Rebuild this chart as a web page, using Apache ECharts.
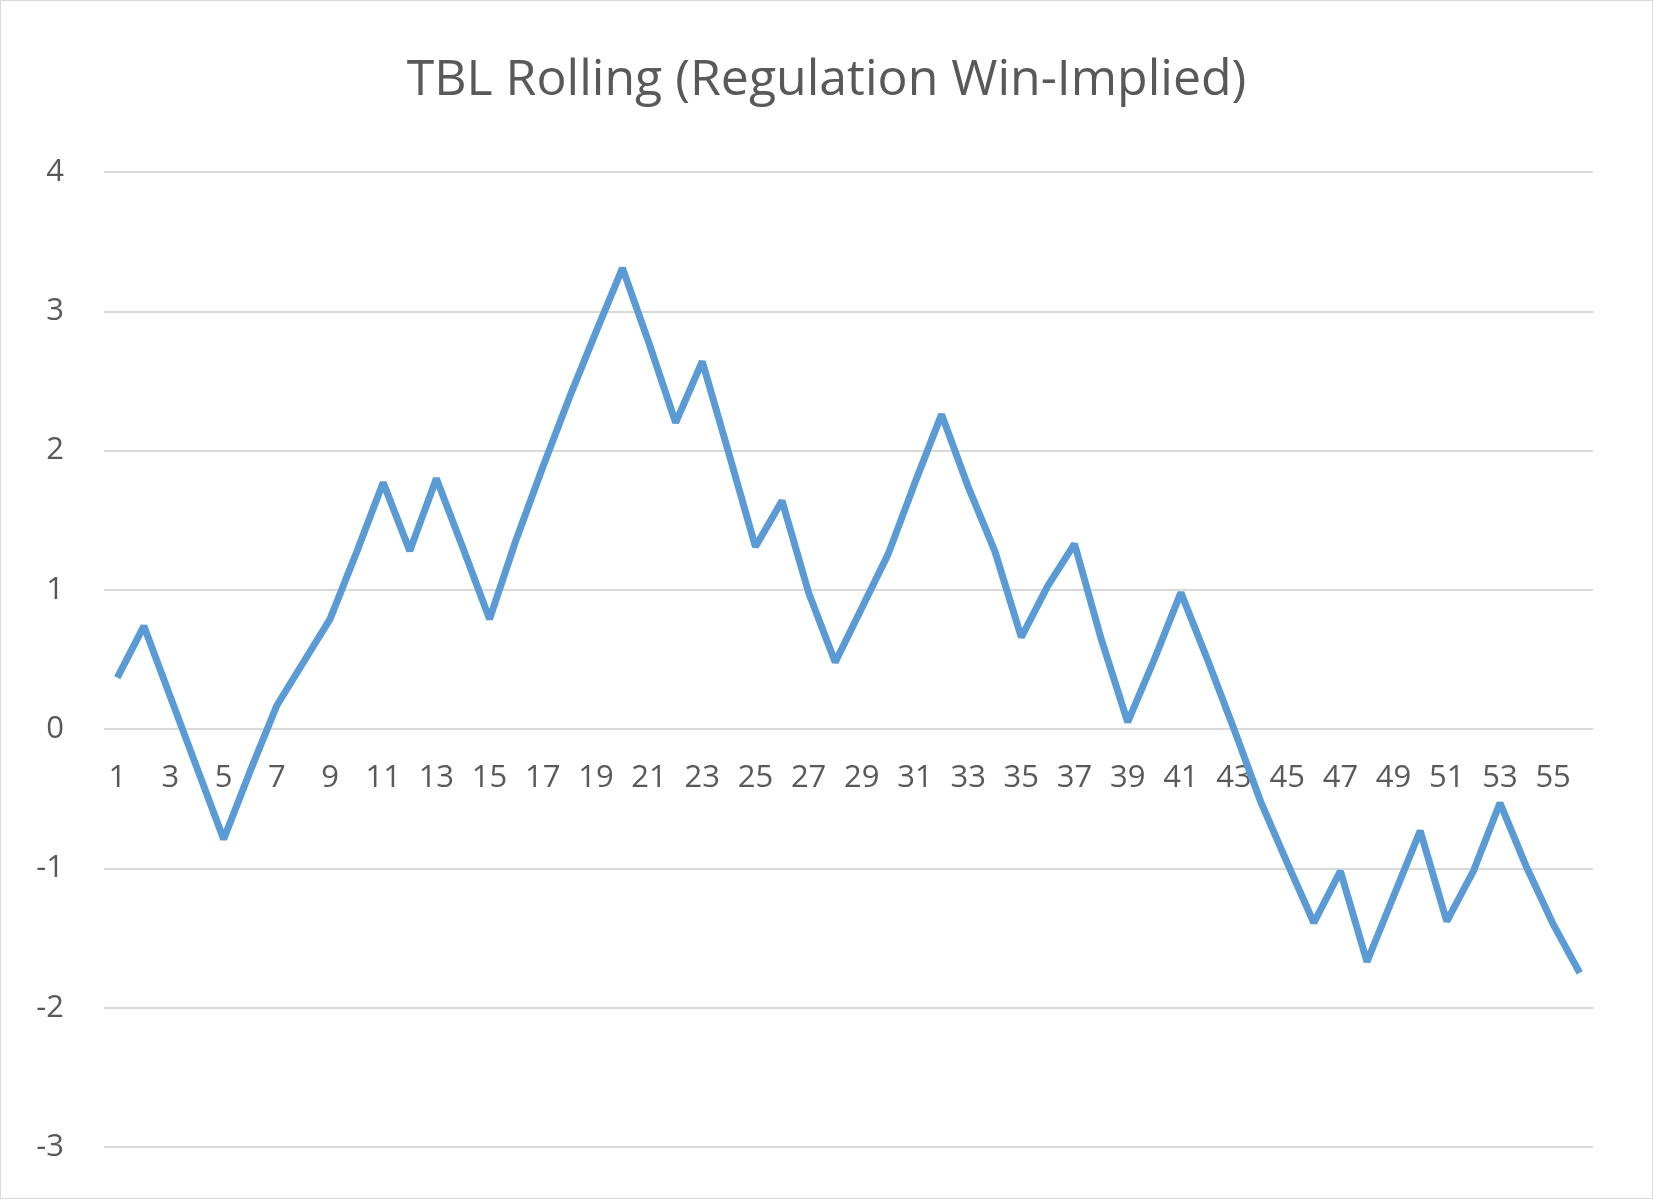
<!DOCTYPE html>
<html>
<head>
<meta charset="utf-8">
<script src="https://cdn.jsdelivr.net/npm/echarts@6/dist/echarts.min.js"></script>
<style>
  html, body { margin: 0; padding: 0; background: #fff; }
  #chart { width: 1651px; height: 1197px; border: 1px solid #d9d9d9; }
</style>
</head>
<body>
<div id="chart"></div>
<script>
var games = [];
for (var i = 1; i <= 56; i++) games.push(String(i));

var rolling = [
  0.37, 0.74, 0.23, -0.28, -0.79, -0.30, 0.17, 0.48, 0.79, 1.27,
  1.77, 1.28, 1.80, 1.30, 0.79, 1.36, 1.88, 2.38, 2.85, 3.31,
  2.77, 2.20, 2.64, 1.98, 1.31, 1.64, 0.98, 0.48, 0.87, 1.26,
  1.77, 2.26, 1.74, 1.28, 0.66, 1.03, 1.33, 0.65, 0.05, 0.50,
  0.98, 0.50, 0.00, -0.52, -0.96, -1.39, -1.02, -1.67, -1.20, -0.73,
  -1.38, -1.02, -0.53, -0.99, -1.40, -1.75
];

var yMin = -3, yMax = 4;
var gridTop = 171, gridBottom = 51, chartH = 1197;
var plotH = chartH - gridTop - gridBottom;
// second grid ends at the zero line so its category labels sit under y = 0
var zeroH = plotH * yMax / (yMax - yMin);

var chart = echarts.init(document.getElementById('chart'));
var option = {
  backgroundColor: '#fff',
  title: {
    text: 'TBL Rolling (Regulation Win-Implied)',
    left: 'center', top: 50,
    textStyle: { color: '#595959', fontSize: 50, fontWeight: 'normal', fontFamily: 'Open Sans' }
  },
  grid: [
    { left: 103, right: 59, top: gridTop, bottom: gridBottom },
    { left: 103, right: 59, top: gridTop, height: zeroH }
  ],
  xAxis: [{
    type: 'category', gridIndex: 0, data: games,
    axisLine: { show: false }, axisTick: { show: false }, axisLabel: { show: false }
  }, {
    type: 'category', gridIndex: 1, data: games,
    axisLine: { show: false },
    axisTick: { show: false },
    axisLabel: { interval: 1, color: '#595959', fontSize: 31, margin: 34, fontFamily: 'Open Sans' }
  }],
  yAxis: [{
    type: 'value', gridIndex: 0,
    min: yMin, max: yMax, interval: 1,
    axisLine: { show: false },
    axisTick: { show: false },
    splitLine: { lineStyle: { color: '#d9d9d9', width: 2 } },
    axisLabel: { color: '#595959', fontSize: 31, margin: 40, fontFamily: 'Open Sans' }
  }, {
    type: 'value', gridIndex: 1, show: false, min: 0, max: 1
  }],
  series: [{
    type: 'line',
    xAxisIndex: 0, yAxisIndex: 0,
    data: rolling,
    showSymbol: false,
    lineStyle: { color: '#5b9bd5', width: 7 },
    itemStyle: { color: '#5b9bd5' }
  }]
};
chart.setOption(option);
</script>
</body>
</html>
